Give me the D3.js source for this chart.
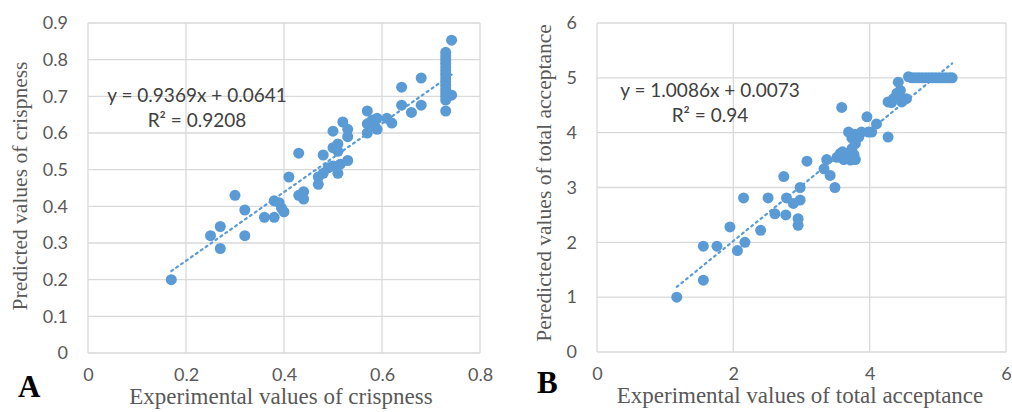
<!DOCTYPE html>
<html>
<head>
<meta charset="utf-8">
<script src="https://cdn.jsdelivr.net/npm/d3@7"></script>
<style>
  body { margin: 0; background: #fff; }
  .tick text { font-family: Lato, "Open Sans", sans-serif; fill: #595959; }
  .title { font-family: "Liberation Serif", "Times New Roman", serif; fill: #595959; }
  .eq { font-family: Lato, "Open Sans", sans-serif; fill: #404040; }
</style>
</head>
<body>
<svg id="chart" width="1012" height="412"></svg>
<script>
// panel A: crispness
const crispExp = [0.17, 0.25, 0.27, 0.27, 0.30, 0.32, 0.32, 0.36, 0.38, 0.38, 0.39, 0.395, 0.40,
  0.41, 0.43, 0.43, 0.44, 0.44, 0.47, 0.47, 0.48, 0.48, 0.49, 0.50, 0.50, 0.50, 0.51, 0.51, 0.51,
  0.515, 0.52, 0.53, 0.53, 0.53, 0.57, 0.57, 0.57, 0.58, 0.59, 0.59, 0.585, 0.61, 0.62, 0.64, 0.64,
  0.66, 0.68, 0.68, 0.742, 0.73, 0.73, 0.73, 0.73, 0.73, 0.73, 0.73, 0.73, 0.73, 0.73, 0.73, 0.73,
  0.73, 0.73, 0.73, 0.742];
const crispPred = [0.20, 0.32, 0.345, 0.285, 0.43, 0.39, 0.32, 0.37, 0.37, 0.415, 0.41, 0.395, 0.385,
  0.48, 0.545, 0.43, 0.44, 0.42, 0.46, 0.48, 0.54, 0.49, 0.505, 0.605, 0.56, 0.51, 0.49, 0.55, 0.57,
  0.515, 0.63, 0.61, 0.59, 0.525, 0.66, 0.60, 0.625, 0.635, 0.64, 0.61, 0.62, 0.64, 0.627, 0.725, 0.676,
  0.656, 0.75, 0.676, 0.853, 0.82, 0.81, 0.80, 0.79, 0.78, 0.77, 0.76, 0.75, 0.74, 0.73, 0.72, 0.71,
  0.70, 0.69, 0.66, 0.703];
const crispTicksX = [0, 0.2, 0.4, 0.6, 0.8];
const crispTicksY = [0, 0.1, 0.2, 0.3, 0.4, 0.5, 0.6, 0.7, 0.8, 0.9];
const crispFit = [0.9369, 0.0641];

// panel B: total acceptance
const accExp = [1.17, 1.56, 1.56, 1.76, 1.95, 2.06, 2.17, 2.15, 2.40, 2.51, 2.61, 2.74, 2.77, 2.78,
  2.88, 2.95, 2.95, 2.98, 2.98, 3.08, 3.33, 3.37, 3.42, 3.49, 3.57, 3.59, 3.62, 3.69, 3.69, 3.74,
  3.79, 3.79, 3.84, 3.88, 3.96, 3.98, 4.03, 4.10, 4.27, 4.27, 4.35, 4.42, 4.42, 4.45, 4.47, 4.54,
  4.57, 4.62, 4.67, 4.72, 4.77, 4.82, 4.87, 4.92, 4.97, 5.02, 5.07, 5.12, 5.17, 5.21,
  3.52, 3.65, 3.72, 3.60, 3.77, 3.78, 3.74, 4.32, 4.50, 4.40];
const accPred = [1.0, 1.31, 1.93, 1.93, 2.28, 1.85, 2.0, 2.81, 2.22, 2.81, 2.52, 3.20, 2.50, 2.81,
  2.71, 2.43, 2.31, 2.77, 3.0, 3.48, 3.34, 3.51, 3.22, 3.0, 3.62, 4.46, 3.51, 3.62, 4.01, 3.71,
  3.51, 3.80, 3.92, 4.01, 4.29, 4.01, 4.01, 4.16, 3.92, 4.56, 4.62, 4.65, 4.92, 4.77, 4.56, 4.62,
  5.02, 5.0, 5.0, 5.0, 5.0, 5.0, 5.0, 5.0, 5.0, 5.0, 5.0, 5.0, 5.0, 5.0,
  3.55, 3.55, 3.50, 3.65, 3.60, 3.97, 3.90, 4.55, 4.60, 4.72];
const accTicksX = [0, 2, 4, 6];
const accTicksY = [0, 1, 2, 3, 4, 5, 6];
const accFit = [1.0086, 0.0073];

const blue = "#5b9bd5";
const svg = d3.select("#chart");

function drawPanel(p) {
  const g = svg.append("g");
  const xScale = d3.scaleLinear().domain(p.xDomain).range([p.left, p.right]);
  const yScale = d3.scaleLinear().domain(p.yDomain).range([p.bottom, p.top]);

  // gridlines
  g.selectAll(".hgrid").data(p.yTicks).enter().append("line")
    .attr("x1", p.left).attr("x2", p.right)
    .attr("y1", d => yScale(d)).attr("y2", d => yScale(d))
    .attr("stroke", "#d9d9d9").attr("stroke-width", 1.3);
  g.selectAll(".vgrid").data(p.xTicks).enter().append("line")
    .attr("y1", p.top).attr("y2", p.bottom)
    .attr("x1", d => xScale(d)).attr("x2", d => xScale(d))
    .attr("stroke", "#d9d9d9").attr("stroke-width", 1.3);

  // axes (labels only)
  const xAxis = d3.axisBottom(xScale).tickValues(p.xTicks).tickSize(0).tickPadding(15)
    .tickFormat(d3.format(p.fmtX));
  const yAxis = d3.axisLeft(yScale).tickValues(p.yTicks).tickSize(0).tickPadding(20)
    .tickFormat(d3.format(p.fmtY));
  g.append("g").attr("transform", "translate(0," + p.bottom + ")").call(xAxis)
    .call(a => a.select(".domain").remove())
    .selectAll("text").style("font-size", "18px");
  g.append("g").attr("transform", "translate(" + p.left + ",0)").call(yAxis)
    .call(a => a.select(".domain").remove())
    .selectAll("text").style("font-size", "18px");

  // trendline
  const xs = d3.extent(p.xs);
  g.append("line")
    .attr("x1", xScale(xs[0])).attr("y1", yScale(p.fit[0] * xs[0] + p.fit[1]))
    .attr("x2", xScale(xs[1])).attr("y2", yScale(p.fit[0] * xs[1] + p.fit[1]))
    .attr("stroke", blue).attr("stroke-width", 2.2)
    .attr("stroke-dasharray", "2,4").attr("stroke-linecap", "round");

  // points
  g.selectAll("circle").data(p.xs.map((x, i) => [x, p.ys[i]])).enter().append("circle")
    .attr("cx", d => xScale(d[0])).attr("cy", d => yScale(d[1]))
    .attr("r", 5.5).attr("fill", blue);

  // equation
  g.append("text").attr("class", "eq").attr("x", p.eqX).attr("y", p.eqY)
    .attr("text-anchor", "middle").style("font-size", "19px").text(p.eq1);
  g.append("text").attr("class", "eq").attr("x", p.eqX).attr("y", p.eqY + 25)
    .attr("text-anchor", "middle").style("font-size", "19px").text(p.eq2);

  // axis titles
  g.append("text").attr("class", "title").attr("text-anchor", "middle")
    .attr("x", (p.xTitleX)).attr("y", p.xTitleY)
    .style("font-size", "23px").text(p.xTitle);
  g.append("text").attr("class", "title").attr("text-anchor", "middle")
    .attr("transform", "translate(" + p.yTitleX + "," + p.yTitleY + ") rotate(-90)")
    .style("font-size", "21.5px").text(p.yTitle);

  // panel letter
  g.append("text").attr("x", p.letterX).attr("y", p.letterY)
    .style("font-family", "'Liberation Serif', serif").style("font-weight", "bold")
    .style("font-size", "31px").attr("fill", "#000").text(p.letter);
}

drawPanel({
  xs: crispExp, ys: crispPred, xDomain: [0, 0.8], yDomain: [0, 0.9],
  xTicks: crispTicksX, yTicks: crispTicksY, fmtX: "", fmtY: "",
  left: 88, right: 480, top: 23, bottom: 353, fit: crispFit,
  eq1: "y = 0.9369x + 0.0641", eq2: "R\u00b2 = 0.9208", eqX: 197, eqY: 102,
  xTitle: "Experimental values of crispness", xTitleX: 281, xTitleY: 404,
  yTitle: "Predicted values of crispness", yTitleX: 27, yTitleY: 186,
  letter: "A", letterX: 18, letterY: 397
});

drawPanel({
  xs: accExp, ys: accPred, xDomain: [0, 6], yDomain: [0, 6],
  xTicks: accTicksX, yTicks: accTicksY, fmtX: "d", fmtY: "d",
  left: 597, right: 1006, top: 23, bottom: 352, fit: accFit,
  eq1: "y = 1.0086x + 0.0073", eq2: "R\u00b2 = 0.94", eqX: 710, eqY: 97,
  xTitle: "Experimental values of total acceptance", xTitleX: 800, xTitleY: 403,
  yTitle: "Peredicted values of total acceptance", yTitleX: 551, yTitleY: 183,
  letter: "B", letterX: 537, letterY: 393
});
</script>
</body>
</html>
